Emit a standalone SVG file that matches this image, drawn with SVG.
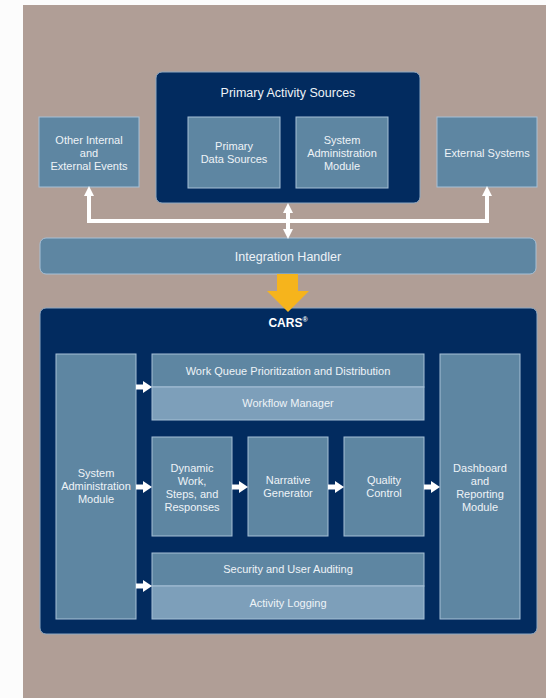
<svg xmlns="http://www.w3.org/2000/svg" width="546" height="698" viewBox="0 0 546 698">
<style>
.navy{fill:#022b5f;stroke:#8fa9c2;stroke-width:1}
.box{fill:#5e86a2;stroke:#a6c0d6;stroke-width:1}
.lite{fill:#7d9fba;stroke:#a6c0d6;stroke-width:1}
text{font-family:"Liberation Sans",Arial,sans-serif;font-size:11px;fill:#eef3f7;text-anchor:middle}
.title{font-size:12.5px}
.bold{font-weight:bold;font-size:12px;fill:#ffffff}
.wire{fill:none;stroke:#ffffff;stroke-width:4}
.flow{fill:none;stroke:#ffffff;stroke-width:5}
</style>
<defs>
<marker id="head" viewBox="0 0 10 10" refX="4" refY="5" markerWidth="10" markerHeight="10" markerUnits="userSpaceOnUse" orient="auto-start-reverse">
<path d="M0,0 L10,5 L0,10 z" fill="#ffffff"/>
</marker>
<marker id="fat" viewBox="0 0 9 12" refX="2" refY="6" markerWidth="9" markerHeight="12" markerUnits="userSpaceOnUse" orient="auto">
<path d="M0,0 L9,6 L0,12 z" fill="#ffffff"/>
</marker>
</defs>
<rect x="0" y="0" width="546" height="698" fill="#fcfcfc"/>
<rect x="23" y="5" width="523" height="693" fill="#b09e96"/>

<g id="primary-activity-sources">
<rect class="navy" x="156" y="72" width="264" height="131" rx="6"/>
<text class="title" x="288" y="97">Primary Activity Sources</text>
</g>
<g id="primary-data-sources">
<rect class="box" x="188" y="117" width="92" height="71"/>
<text x="234" y="150">Primary</text>
<text x="234" y="163">Data Sources</text>
</g>
<g id="system-admin-top">
<rect class="box" x="296" y="117" width="92" height="71"/>
<text x="342" y="144">System</text>
<text x="342" y="157">Administration</text>
<text x="342" y="170">Module</text>
</g>
<g id="other-events">
<rect class="box" x="39" y="117" width="100" height="70"/>
<text x="89" y="144">Other Internal</text>
<text x="89" y="157">and</text>
<text x="89" y="170">External Events</text>
</g>
<g id="external-systems">
<rect class="box" x="437" y="117" width="100" height="70"/>
<text x="487" y="157">External Systems</text>
</g>
<g id="integration-handler">
<rect class="box" x="40" y="238" width="496" height="36" rx="6"/>
<text class="title" x="288" y="261">Integration Handler</text>
</g>

<g id="cars">
<rect class="navy" x="40" y="308" width="497" height="326" rx="6"/>
<text class="bold" x="288" y="327">CARS<tspan font-size="7" dy="-5">®</tspan></text>
</g>
<g id="system-admin-cars">
<rect class="box" x="56" y="354" width="80" height="265"/>
<text x="96" y="477">System</text>
<text x="96" y="490">Administration</text>
<text x="96" y="503">Module</text>
</g>
<g id="work-queue">
<rect class="box" x="152" y="354" width="272" height="33"/>
<text x="288" y="375">Work Queue Prioritization and Distribution</text>
</g>
<g id="workflow-manager">
<rect class="lite" x="152" y="387" width="272" height="33"/>
<text x="288" y="407">Workflow Manager</text>
</g>
<g id="dynamic-work">
<rect class="box" x="152" y="437" width="80" height="99"/>
<text x="192" y="472">Dynamic</text>
<text x="192" y="485">Work,</text>
<text x="192" y="498">Steps, and</text>
<text x="192" y="511">Responses</text>
</g>
<g id="narrative-generator">
<rect class="box" x="248" y="437" width="80" height="99"/>
<text x="288" y="484">Narrative</text>
<text x="288" y="497">Generator</text>
</g>
<g id="quality-control">
<rect class="box" x="344" y="437" width="80" height="99"/>
<text x="384" y="484">Quality</text>
<text x="384" y="497">Control</text>
</g>
<g id="dashboard">
<rect class="box" x="440" y="354" width="80" height="265"/>
<text x="480" y="472">Dashboard</text>
<text x="480" y="485">and</text>
<text x="480" y="498">Reporting</text>
<text x="480" y="511">Module</text>
</g>
<g id="security-auditing">
<rect class="box" x="152" y="553" width="272" height="33"/>
<text x="288" y="573">Security and User Auditing</text>
</g>
<g id="activity-logging">
<rect class="lite" x="152" y="586" width="272" height="33"/>
<text x="288" y="607">Activity Logging</text>
</g>

<g id="connectors">
<path class="wire" d="M89 192 V221 H487 V192" marker-start="url(#head)" marker-end="url(#head)"/>
<path class="wire" d="M288 209 V233" marker-start="url(#head)" marker-end="url(#head)"/>
<polygon points="277,274 298,274 298,291 309,291 288,312 267,291 277,291" fill="#f6b41c"/>
<path class="flow" d="M136 387 H145" marker-end="url(#fat)"/>
<path class="flow" d="M136 487 H145" marker-end="url(#fat)"/>
<path class="flow" d="M232 487 H241" marker-end="url(#fat)"/>
<path class="flow" d="M328 487 H337" marker-end="url(#fat)"/>
<path class="flow" d="M424 487 H433" marker-end="url(#fat)"/>
<path class="flow" d="M136 586 H145" marker-end="url(#fat)"/>
</g>
</svg>
